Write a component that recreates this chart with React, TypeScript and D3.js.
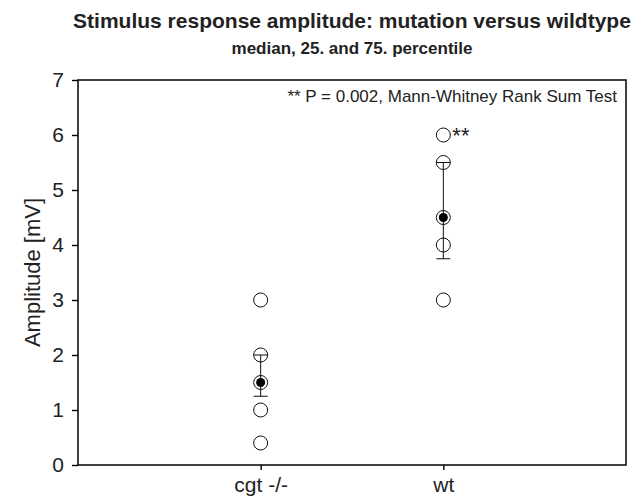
import React, { useRef, useEffect } from "react";
import * as d3 from "d3";

const groups = ["cgt -/-", "wt"];
const cgtValues = [3, 2, 1.5, 1, 0.4];
const wtValues = [6, 5.5, 4.5, 4, 3];
const medians = [1.5, 4.5];
const p25 = [1.25, 3.75];
const p75 = [2, 5.5];
const yTicks = [0, 1, 2, 3, 4, 5, 6, 7];

const App = () => {
  const svgRef = useRef<SVGSVGElement>(null);

  useEffect(() => {
    if (!svgRef.current) return;
    const width = 642;
    const height = 497;
    const margin = { top: 80, right: 16, bottom: 32, left: 78 };
    const font = "Liberation Sans, Arial, sans-serif";

    const svg = d3.select(svgRef.current);
    svg.selectAll("*").remove();

    const x = d3
      .scalePoint()
      .domain(groups)
      .range([margin.left, width - margin.right])
      .padding(1);

    const y = d3
      .scaleLinear()
      .domain([0, 7])
      .range([height - margin.bottom, margin.top]);

    // frame
    svg
      .append("rect")
      .attr("x", margin.left)
      .attr("y", margin.top)
      .attr("width", width - margin.left - margin.right)
      .attr("height", height - margin.top - margin.bottom)
      .attr("fill", "none")
      .attr("stroke", "#111")
      .attr("stroke-width", 1.6);

    // y axis
    svg
      .append("g")
      .attr("transform", `translate(${margin.left},0)`)
      .call(
        d3
          .axisLeft(y)
          .tickValues(yTicks)
          .tickSize(6)
          .tickPadding(8)
          .tickFormat(d3.format("d"))
      )
      .call((g) => g.select(".domain").remove())
      .call((g) => g.selectAll(".tick line").attr("stroke-width", 1.4))
      .call((g) =>
        g
          .selectAll(".tick text")
          .style("font-family", font)
          .style("font-size", "21px")
          .attr("fill", "#222")
      );

    // x axis
    svg
      .append("g")
      .attr("transform", `translate(0,${height - margin.bottom})`)
      .call(d3.axisBottom(x).tickSize(5).tickPadding(7))
      .call((g) => g.select(".domain").remove())
      .call((g) => g.selectAll(".tick line").attr("stroke-width", 1.4))
      .call((g) =>
        g
          .selectAll(".tick text")
          .style("font-family", font)
          .style("font-size", "21px")
          .attr("fill", "#222")
      );

    const values = [cgtValues, wtValues];
    groups.forEach((gName, i) => {
      const cx = x(gName)!;
      // percentile bar
      svg
        .append("line")
        .attr("x1", cx)
        .attr("x2", cx)
        .attr("y1", y(p25[i]))
        .attr("y2", y(p75[i]))
        .attr("stroke", "#111")
        .attr("stroke-width", 1);
      [p25[i], p75[i]].forEach((v) => {
        svg
          .append("line")
          .attr("x1", cx - 7)
          .attr("x2", cx + 7)
          .attr("y1", y(v))
          .attr("y2", y(v))
          .attr("stroke", "#111")
          .attr("stroke-width", 1);
      });
      // raw points
      svg
        .append("g")
        .selectAll("circle")
        .data(values[i])
        .join("circle")
        .attr("cx", cx)
        .attr("cy", (d) => y(d))
        .attr("r", 7)
        .attr("fill", "none")
        .attr("stroke", "#111")
        .attr("stroke-width", 1);
      // median
      svg
        .append("circle")
        .attr("cx", cx)
        .attr("cy", y(medians[i]))
        .attr("r", 4.5)
        .attr("fill", "#000");
    });

    // significance marker
    svg
      .append("text")
      .attr("x", x("wt")! + 9)
      .attr("y", y(d3.max(wtValues)!) + 8)
      .style("font-family", font)
      .style("font-size", "22px")
      .attr("fill", "#222")
      .text("**");

    svg
      .append("text")
      .attr("x", width - margin.right - 9)
      .attr("y", margin.top + 22)
      .attr("text-anchor", "end")
      .style("font-family", font)
      .style("font-size", "17px")
      .attr("fill", "#222")
      .text("** P = 0.002, Mann-Whitney Rank Sum Test");

    // titles
    svg
      .append("text")
      .attr("x", 352)
      .attr("y", 28)
      .attr("text-anchor", "middle")
      .style("font-family", font)
      .style("font-size", "21px")
      .style("font-weight", "bold")
      .attr("fill", "#222")
      .text("Stimulus response amplitude: mutation versus wildtype");

    svg
      .append("text")
      .attr("x", 352)
      .attr("y", 54)
      .attr("text-anchor", "middle")
      .style("font-family", font)
      .style("font-size", "17px")
      .style("font-weight", "bold")
      .attr("fill", "#222")
      .text("median, 25. and 75. percentile");

    svg
      .append("text")
      .attr("transform", `translate(40,${y(3.5)}) rotate(-90)`)
      .attr("text-anchor", "middle")
      .style("font-family", font)
      .style("font-size", "22px")
      .attr("fill", "#222")
      .text("Amplitude [mV]");
  }, []);

  return (
    <svg
      ref={svgRef}
      width={642}
      height={497}
      style={{ position: "absolute", left: 0, top: 0, background: "#fff" }}
    ></svg>
  );
};

export default App;
